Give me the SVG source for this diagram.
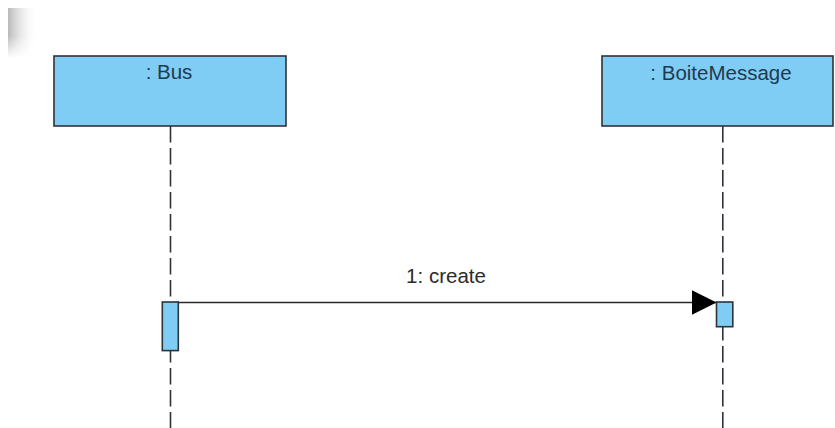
<svg xmlns="http://www.w3.org/2000/svg" width="835" height="428" viewBox="0 0 835 428">
  <style>
    .head { fill: #7fcdf5; stroke: #2f3238; stroke-width: 1.6; }
    .act { fill: #7fcdf5; stroke: #2f3238; stroke-width: 1.6; }
    .life { stroke: #2f3238; stroke-width: 1.6; stroke-dasharray: 16.5 5.5; fill: none; }
    .label { font-family: "Liberation Sans", Arial, sans-serif; font-size: 20.5px; fill: #1f3a4f; text-anchor: middle; }
    .msg { stroke: #2b2b2b; stroke-width: 1.6; fill: none; }
    .msgtext { font-family: "Liberation Sans", Arial, sans-serif; font-size: 20.5px; fill: #2b2b2b; text-anchor: middle; }
  </style>
  <defs>
    <marker id="filled" markerUnits="userSpaceOnUse" markerWidth="26" markerHeight="26" refX="25" refY="12.5" orient="auto">
      <polygon points="0,0 25,12.5 0,25" fill="#000"/>
    </marker>
    <linearGradient id="shadeX" x1="0" y1="0" x2="1" y2="0">
      <stop offset="0" stop-color="#b8b8b8"/>
      <stop offset="1" stop-color="#ffffff" stop-opacity="0"/>
    </linearGradient>
    <linearGradient id="fadeY" x1="0" y1="0" x2="0" y2="1">
      <stop offset="0" stop-color="#fff"/>
      <stop offset="0.55" stop-color="#fff"/>
      <stop offset="1" stop-color="#000"/>
    </linearGradient>
    <mask id="shadeMask">
      <rect x="8" y="8" width="30" height="50" fill="url(#fadeY)"/>
    </mask>
  </defs>

  <rect width="835" height="428" fill="#ffffff"/>

  <!-- corner shading -->
  <rect x="8" y="8" width="30" height="50" fill="url(#shadeX)" mask="url(#shadeMask)"/>

  <!-- lifelines -->
  <g id="lifelines">
    <line class="life" x1="170.5" y1="126" x2="170.5" y2="428"/>
    <line class="life" x1="722.8" y1="126" x2="722.8" y2="428"/>
  </g>

  <g id="bus">
    <rect class="head" x="54" y="56" width="232" height="70"/>
    <text class="label" x="169" y="79">: Bus</text>
    <rect class="act" x="162.3" y="302" width="16" height="48.6"/>
  </g>

  <g id="boiteMessage">
    <rect class="head" x="602" y="56" width="231" height="70"/>
    <text class="label" x="721" y="80">: BoiteMessage</text>
  </g>

  <g id="connectors">
    <line class="msg" x1="178.3" y1="302.5" x2="716.5" y2="302.5" marker-end="url(#filled)"/>
    <text class="msgtext" x="446" y="283">1: create</text>
  </g>

  <g id="boiteMessage-activation">
    <rect class="act" x="716.5" y="302" width="16.3" height="24.7"/>
  </g>
</svg>
